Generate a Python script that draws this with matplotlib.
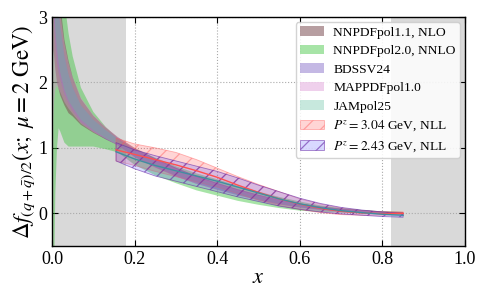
import numpy as np
import matplotlib
matplotlib.use("Agg")
import matplotlib.pyplot as plt

plt.rcParams['font.family'] = ['Liberation Serif', 'DejaVu Serif']
plt.rcParams['mathtext.fontset'] = 'stix'
plt.rcParams['hatch.linewidth'] = 0.9

# ---------------- data ----------------
xg = [0.003, 0.005, 0.008, 0.012, 0.016, 0.02, 0.03, 0.04, 0.05, 0.07, 0.1, 0.13,
      0.16, 0.2, 0.25, 0.3, 0.35, 0.4, 0.45, 0.5, 0.55, 0.6, 0.65, 0.7, 0.75, 0.8, 0.85]

# NNPDFpol1.1, NLO
nnpdf11_c = [5.0, 4.2, 3.5, 3.0, 2.7, 2.5, 2.15, 1.93, 1.78, 1.55, 1.36, 1.22,
             1.1, 0.93, 0.77, 0.63, 0.51, 0.41, 0.32, 0.24, 0.17, 0.12, 0.08, 0.05, 0.03, 0.015, 0.005]
nnpdf11_e = [2.5, 1.8, 1.3, 1.0, 0.8, 0.7, 0.5, 0.4, 0.3, 0.2, 0.13, 0.09,
             0.06, 0.07, 0.07, 0.065, 0.06, 0.05, 0.045, 0.04, 0.035, 0.03, 0.025, 0.02, 0.02, 0.015, 0.015]
# NNPDFpol2.0, NNLO
nnpdf20_lo = [-3.0, -1.0, 0.3, 1.0, 1.3, 1.25, 1.08, 1.02, 1.02, 1.02, 1.02, 0.98,
              0.93, 0.74, 0.58, 0.46, 0.35, 0.27, 0.19, 0.13, 0.08, 0.04, 0.02, 0.01, 0.0, -0.01, -0.01]
nnpdf20_up = [10.0, 8.0, 6.0, 5.0, 4.5, 4.0, 3.25, 2.75, 2.4, 1.92, 1.55, 1.32,
              1.14, 0.98, 0.85, 0.72, 0.61, 0.52, 0.42, 0.33, 0.25, 0.18, 0.12, 0.08, 0.05, 0.03, 0.02]
# BDSSV24
bdssv_c = [4.8, 4.0, 3.4, 2.9, 2.65, 2.45, 2.12, 1.9, 1.75, 1.52, 1.34, 1.2,
           1.09, 0.92, 0.77, 0.64, 0.52, 0.42, 0.33, 0.25, 0.18, 0.12, 0.08, 0.05, 0.03, 0.01, 0.0]
bdssv_e = [1.5, 1.1, 0.8, 0.6, 0.5, 0.4, 0.3, 0.22, 0.18, 0.13, 0.09, 0.07,
           0.05, 0.06, 0.06, 0.06, 0.05, 0.05, 0.04, 0.035, 0.03, 0.025, 0.02, 0.02, 0.015, 0.015, 0.015]
# MAPPDFpol1.0
mappdf_c = [3.5, 3.2, 3.0, 2.8, 2.6, 2.45, 2.15, 1.95, 1.8, 1.57, 1.37, 1.23,
            1.1, 0.92, 0.76, 0.62, 0.5, 0.4, 0.31, 0.23, 0.17, 0.11, 0.07, 0.04, 0.02, 0.01, 0.0]
mappdf_e = [2.1, 1.5, 1.1, 0.85, 0.7, 0.6, 0.45, 0.35, 0.28, 0.2, 0.13, 0.09,
            0.06, 0.07, 0.065, 0.06, 0.055, 0.05, 0.045, 0.04, 0.035, 0.03, 0.025, 0.02, 0.02, 0.015, 0.015]
# JAMpol25
jam_c = [5.0, 4.2, 3.5, 3.0, 2.7, 2.5, 2.14, 1.92, 1.77, 1.54, 1.35, 1.21,
         1.09, 0.91, 0.75, 0.62, 0.5, 0.4, 0.31, 0.23, 0.17, 0.11, 0.07, 0.04, 0.02, 0.01, 0.0]
jam_e = [1.2, 0.9, 0.7, 0.5, 0.4, 0.35, 0.25, 0.2, 0.15, 0.11, 0.08, 0.06,
         0.04, 0.04, 0.04, 0.035, 0.035, 0.03, 0.03, 0.025, 0.02, 0.02, 0.015, 0.015, 0.01, 0.01, 0.01]

# LaMET results
xl = [0.155, 0.2, 0.25, 0.3, 0.35, 0.4, 0.45, 0.5, 0.55, 0.6, 0.65, 0.7, 0.75, 0.8, 0.85]
p304_lo = [0.80, 0.73, 0.64, 0.56, 0.48, 0.40, 0.30, 0.20, 0.12, 0.06, 0.01, -0.02, -0.03, -0.03, -0.02]
p304_up = [1.15, 1.06, 1.00, 0.93, 0.82, 0.69, 0.56, 0.44, 0.33, 0.22, 0.14, 0.08, 0.04, 0.02, 0.02]
p304_c = [0.97, 0.90, 0.82, 0.74, 0.65, 0.55, 0.43, 0.32, 0.22, 0.14, 0.075, 0.03, 0.005, -0.005, 0.0]
p243_lo = [0.80, 0.68, 0.57, 0.49, 0.41, 0.33, 0.25, 0.18, 0.11, 0.06, 0.02, -0.01, -0.03, -0.05, -0.06]
p243_up = [1.08, 0.97, 0.88, 0.80, 0.72, 0.64, 0.54, 0.43, 0.33, 0.23, 0.15, 0.09, 0.05, 0.02, 0.0]
p243_c = [0.94, 0.83, 0.73, 0.65, 0.57, 0.49, 0.40, 0.31, 0.22, 0.145, 0.085, 0.04, 0.01, -0.015, -0.03]

labels = ["NNPDFpol1.1, NLO", "NNPDFpol2.0, NNLO", "BDSSV24", "MAPPDFpol1.0", "JAMpol25",
          r"$P^z = 3.04$ GeV, NLL", r"$P^z = 2.43$ GeV, NLL"]

# ---------------- plot ----------------
fig = plt.figure(figsize=(4.88, 3.02), dpi=100)
ax = fig.add_axes([0.1066, 0.1854, 0.8464, 0.7583])

ax.axvspan(0.0, 0.18, color='#d9d9d9', zorder=0, lw=0)
ax.axvspan(0.82, 1.0, color='#d9d9d9', zorder=0, lw=0)

xg_a = np.array(xg)
def band(c, e, **kw):
    c = np.array(c); e = np.array(e)
    return ax.fill_between(xg_a, c - e, c + e, lw=0, zorder=2, **kw)

h2 = ax.fill_between(xg_a, nnpdf20_lo, nnpdf20_up, color='#3cc43c', alpha=0.45, lw=0,
                     zorder=1.5, label=labels[1])
h1 = band(nnpdf11_c, nnpdf11_e, color='#7d4f55', alpha=0.55, label=labels[0])
h3 = band(bdssv_c, bdssv_e, color='#7e62c4', alpha=0.45, label=labels[2])
h4 = band(mappdf_c, mappdf_e, color='#d98bd0', alpha=0.4, label=labels[3])
h5 = band(jam_c, jam_e, color='#5fbf9f', alpha=0.35, label=labels[4])

h6 = ax.fill_between(xl, p304_lo, p304_up, facecolor=(1, 0.25, 0.25, 0.22),
                     edgecolor=(1, 0.35, 0.35, 0.45), hatch='//', lw=0.6, zorder=3, label=labels[5])
ax.plot(xl, p304_c, color='#ff5050', lw=1.0, zorder=3.5)
h7 = ax.fill_between(xl, p243_lo, p243_up, facecolor=(0.4, 0.4, 1.0, 0.25),
                     edgecolor=(0.4, 0.15, 0.65, 0.6), hatch='//', lw=0.6, zorder=3.2, label=labels[6])
ax.plot(xl, p243_c, color='#3f8fa0', lw=1.0, zorder=3.6)

ax.set_xlim(0, 1)
ax.set_ylim(-0.5, 3)
ax.set_xticks([0.0, 0.2, 0.4, 0.6, 0.8, 1.0])
ax.set_yticks([0, 1, 2, 3])
ax.tick_params(direction='in', top=True, right=True, labelsize=13, length=4)
ax.grid(True, linestyle=':', color='#aaaaaa', lw=0.8, zorder=0.5)
ax.set_axisbelow(True)
for s in ax.spines.values():
    s.set_linewidth(1.0)

ax.set_xlabel(r'$x$', fontsize=16, labelpad=1)
ax.set_ylabel(r'$\Delta f_{(q+\bar{q})/2}(x;\ \mu = 2\ \mathrm{GeV})$', fontsize=16.5, labelpad=1)

leg = ax.legend(handles=[h1, h2, h3, h4, h5, h6, h7], loc='upper right', fontsize=9.7,
                frameon=True, fancybox=True, framealpha=0.85, edgecolor='#cccccc',
                handlelength=1.8, labelspacing=0.45, borderaxespad=0.4, handletextpad=0.7,
                borderpad=0.3)

fig.savefig('out.png', dpi=100)
